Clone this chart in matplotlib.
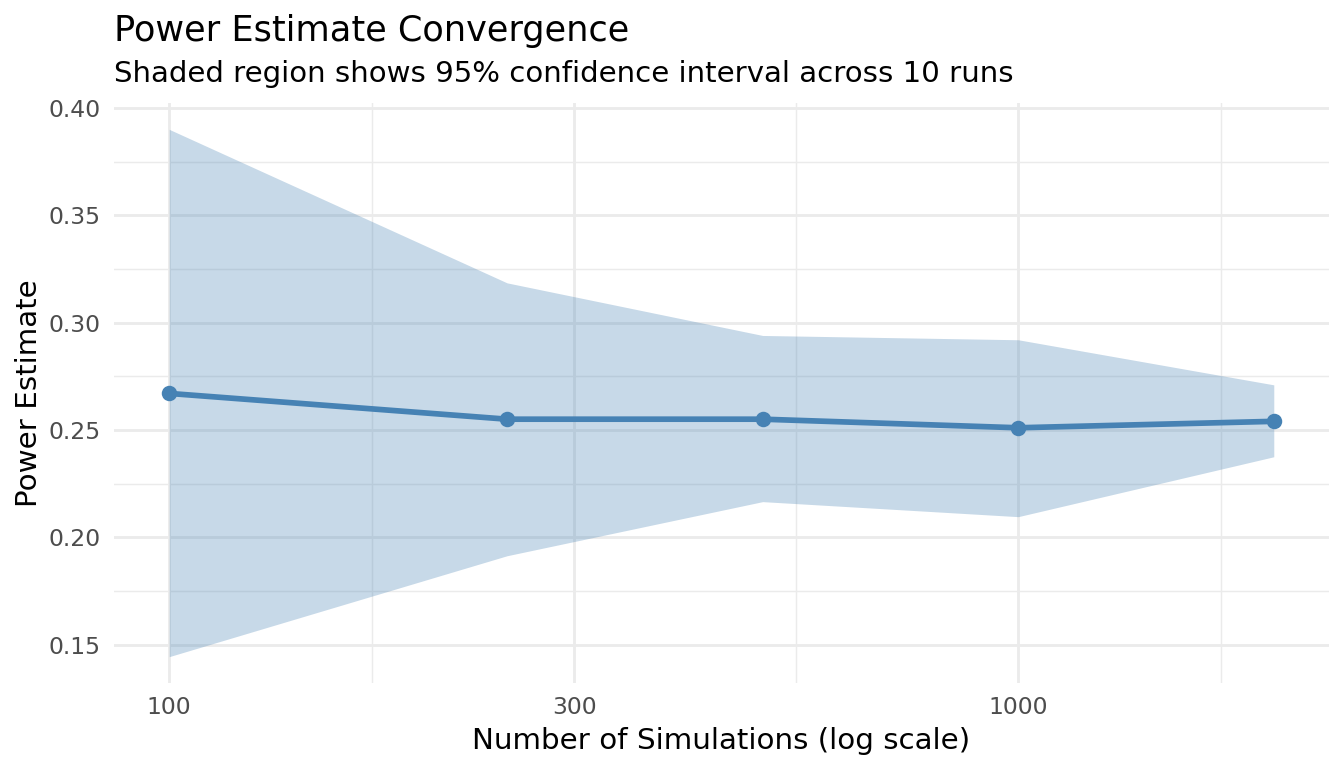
import matplotlib
matplotlib.use("Agg")
import matplotlib.pyplot as plt
from matplotlib.ticker import FixedLocator, NullFormatter
import numpy as np

n_sims = [100, 250, 500, 1000, 2000]
power_mean = [0.267, 0.255, 0.255, 0.251, 0.254]
ci_upper = [0.390, 0.3185, 0.294, 0.292, 0.271]
ci_lower = [0.1444, 0.1914, 0.2166, 0.2096, 0.2375]
x_ticks = [100, 300, 1000]
x_tick_labels = ["100", "300", "1000"]
y_ticks = [0.15, 0.20, 0.25, 0.30, 0.35, 0.40]

W, H, DPI = 1344, 768, 192
fig = plt.figure(figsize=(W / DPI, H / DPI), dpi=DPI)
L, R, T, B = 114, 1329, 103, 683
ax = fig.add_axes([L / W, 1 - B / H, (R - L) / W, (B - T) / H])

steel = "#4682B4"
ax.fill_between(n_sims, ci_lower, ci_upper, color=steel, alpha=0.3, linewidth=0, zorder=2)
ax.plot(n_sims, power_mean, color=steel, linewidth=2.13, zorder=3, solid_capstyle="butt")
ax.plot(n_sims, power_mean, "o", color=steel, markersize=5.8, markeredgewidth=0, zorder=4)

ax.set_xscale("log")
lx = np.log10(n_sims)
pad = 0.05 * (lx.max() - lx.min())
ax.set_xlim(10 ** (lx.min() - pad), 10 ** (lx.max() + pad))
ymin, ymax = min(ci_lower), max(ci_upper)
yp = 0.05 * (ymax - ymin)
ax.set_ylim(ymin - yp, ymax + yp)

ax.xaxis.set_major_locator(FixedLocator(x_ticks))
ax.set_xticklabels(x_tick_labels)
lt = np.log10(x_ticks + [3000])
minor_x = list(10 ** ((lt[:-1] + lt[1:]) / 2))
ax.xaxis.set_minor_locator(FixedLocator(minor_x))
ax.xaxis.set_minor_formatter(NullFormatter())
ax.set_yticks(y_ticks)
ax.set_yticklabels([f"{v:.2f}" for v in y_ticks])
minor_y = [(a + b) / 2 for a, b in zip(y_ticks[:-1], y_ticks[1:])]
ax.yaxis.set_minor_locator(FixedLocator(minor_y))

ax.grid(which="major", color="#EBEBEB", linewidth=1.07, zorder=0)
ax.grid(which="minor", color="#EBEBEB", linewidth=0.53, zorder=0)
ax.set_axisbelow(True)
for s in ax.spines.values():
    s.set_visible(False)
ax.tick_params(which="both", length=0)
ax.tick_params(axis="both", labelsize=8.8, labelcolor="#4D4D4D")
ax.tick_params(axis="x", pad=5)
ax.tick_params(axis="y", pad=5)

ax.set_xlabel("Number of Simulations (log scale)", fontsize=11, color="black", labelpad=3)
ax.set_ylabel("Power Estimate", fontsize=11, color="black", labelpad=2)

fig.text(L / W, 1 - 41 / H, "Power Estimate Convergence", fontsize=13.2, color="black",
         ha="left", va="baseline")
fig.text(L / W, 1 - 82 / H, "Shaded region shows 95% confidence interval across 10 runs",
         fontsize=10.97, color="black", ha="left", va="baseline")

fig.savefig("out.png", dpi=DPI, facecolor="white")
